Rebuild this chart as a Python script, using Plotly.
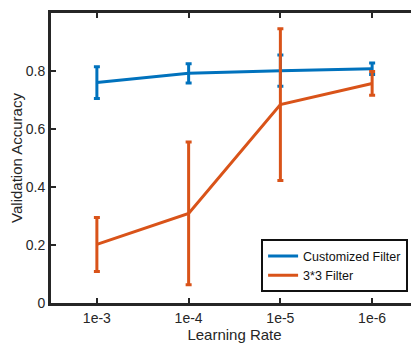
import plotly.graph_objects as go

learning_rates = ["1e-3", "1e-4", "1e-5", "1e-6"]
custom_mean = [0.760, 0.792, 0.801, 0.808]
custom_err = [0.055, 0.033, 0.054, 0.020]
filter33_mean = [0.202, 0.309, 0.684, 0.757]
filter33_err = [0.093, 0.246, 0.262, 0.041]

BLUE = "#0072BD"
ORANGE = "#D95319"
AX = "#262626"

fig = go.Figure()
fig.add_trace(go.Scatter(
    x=learning_rates, y=custom_mean, mode="lines", name="Customized Filter",
    line=dict(color=BLUE, width=3),
    error_y=dict(type="data", array=custom_err, color=BLUE, thickness=3, width=3),
))
fig.add_trace(go.Scatter(
    x=learning_rates, y=filter33_mean, mode="lines", name="3*3 Filter",
    line=dict(color=ORANGE, width=3),
    error_y=dict(type="data", array=filter33_err, color=ORANGE, thickness=3, width=3),
))

# page body has an 8px default margin, so the figure is offset by 8px
fig.update_layout(
    width=411, height=335,
    margin=dict(l=43, r=1, t=5, b=40),
    paper_bgcolor="white", plot_bgcolor="white",
    font=dict(family="Liberation Sans, Arial, sans-serif", color=AX, size=14),
    legend=dict(
        x=0.973, y=0.128, xanchor="right", yanchor="middle",
        bgcolor="white", bordercolor="#111111", borderwidth=2,
        font=dict(size=12.5, color="#111111"),
        tracegroupgap=0, itemwidth=30,
    ),
    xaxis=dict(
        type="category", range=[-0.5, 3.5], automargin=False,
        showline=True, linewidth=3, linecolor=AX, mirror="ticks",
        ticks="inside", ticklen=5, tickwidth=2, tickcolor=AX,
        showgrid=False, zeroline=False,
        title=dict(text="Learning Rate", font=dict(size=15), standoff=3),
    ),
    yaxis=dict(
        range=[0, 1], tickvals=[0, 0.2, 0.4, 0.6, 0.8, 1], automargin=False,
        ticktext=["0", "0.2", "0.4", "0.6", "0.8", "1"],
        showline=True, linewidth=3, linecolor=AX, mirror="ticks",
        ticks="inside", ticklen=5, tickwidth=2, tickcolor=AX,
        showgrid=False, zeroline=False,
        title=dict(text="Validation Accuracy", font=dict(size=15), standoff=3),
    ),
)

fig.write_html("out.html")
